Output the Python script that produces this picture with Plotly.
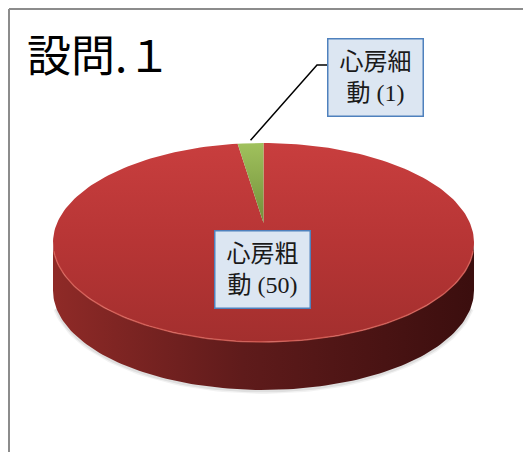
import math
import plotly.graph_objects as go

# ---- data ----
labels = ["心房粗動", "心房細動"]
values = [50, 1]
title_text = "設問.１"

# ---- styling / geometry (layout, not data) ----
W, H = 523, 452
CX, CY = 263.5, 242.5      # ellipse centre of top face
A, B = 210.5, 99.5         # semi axes of top face
APEX_Y = 223.0             # projected pie centre (perspective)
DEPTH = 48.0               # wall thickness
top_scales = [
    [[0, "#a32f2e"], [0.5, "#b73535"], [1, "#c83e3e"]],
    [[0, "#72903a"], [1, "#a0c15d"]],
]
wall_scale = [[0, "#8f2a27"], [0.45, "#5f1b1b"], [1, "#3b0e0e"]]
label_pos = [(262, 269), (375.5, 77.5)]


def rim(theta_deg, dy=0.0):
    t = math.radians(theta_deg)
    return CX + A * math.sin(t), CY - B * math.cos(t) + dy


def arc(t0, t1, dy=0.0, n=None):
    n = n or max(2, int(abs(t1 - t0) / 1.5) + 2)
    pts = [rim(t0 + (t1 - t0) * i / (n - 1), dy) for i in range(n)]
    return [p[0] for p in pts], [p[1] for p in pts]


fig = go.Figure()

total = sum(values)
angles = []
acc = 0.0
for v in values:
    a0 = acc / total * 360
    acc += v
    a1 = acc / total * 360
    angles.append((a0, a1))

# soft shadow under the wall
for w, op in [(6, 0.05), (3, 0.08)]:
    sx, sy = arc(100, 260, DEPTH + 1)
    fig.add_trace(go.Scatter(x=sx, y=sy, mode="lines", line=dict(color=f"rgba(0,0,0,{op})", width=w),
                             hoverinfo="skip", showlegend=False))

# front wall (visible part: 90..270 degrees)
for (a0, a1), v in zip(angles, values):
    lo, hi = max(a0, 90), min(a1, 270)
    if hi <= lo:
        continue
    tx, ty = arc(lo, hi)
    bx, by = arc(hi, lo, DEPTH)
    fig.add_trace(go.Scatter(
        x=tx + bx + [tx[0]], y=ty + by + [ty[0]], mode="lines", fill="toself",
        line=dict(width=0), fillgradient=dict(type="horizontal", colorscale=wall_scale),
        hoverinfo="skip", showlegend=False))

# top faces
for i, ((a0, a1), v) in enumerate(zip(angles, values)):
    ax_, ay_ = arc(a0, a1)
    xs = [CX] + ax_ + [CX]
    ys = [APEX_Y] + ay_ + [APEX_Y]
    fig.add_trace(go.Scatter(
        x=xs, y=ys, mode="lines", fill="toself", line=dict(width=0),
        fillgradient=dict(type="vertical", colorscale=top_scales[i]),
        hoverinfo="skip", showlegend=False, name=labels[i]))

# rim highlight on the front edge
hx, hy = arc(95, 265)
fig.add_trace(go.Scatter(x=hx, y=hy, mode="lines", line=dict(color="rgba(225,105,95,0.7)", width=1.5),
                         hoverinfo="skip", showlegend=False))

# labels
for i, (lab, v) in enumerate(zip(labels, values)):
    x, y = label_pos[i]
    fig.add_annotation(
        x=x, y=y, xref="x", yref="y", showarrow=False,
        text=f"{lab[:3]}<br>{lab[3:]} ({v})",
        font=dict(family="Liberation Serif, Noto Sans CJK JP", size=24, color="#1a1a1a"),
        bgcolor="#dce6f2", bordercolor="#4f81bd", borderwidth=1.5,
        width=94, height=76, borderpad=0, align="center", valign="middle")

# leader line for the small slice
g0, g1 = angles[1]
lx, ly = rim((g0 + g1) / 2, -3)
bx0, by0 = label_pos[1][0] - 48.5, 65
fig.add_shape(type="path", xref="x", yref="y",
              path=f"M {bx0},{by0} L {bx0-10},{by0} L {lx},{ly}",
              line=dict(color="black", width=1.5))

# title
fig.add_annotation(x=25, y=53, xref="x", yref="y", showarrow=False, xanchor="left",
                   text=title_text, font=dict(family="Noto Sans CJK JP", size=44, color="black"))

# chart border (top and left visible)
fig.add_shape(type="line", xref="x", yref="y", x0=9, y0=9, x1=W + 5, y1=9,
              line=dict(color="#8c8c8c", width=2))
fig.add_shape(type="line", xref="x", yref="y", x0=9, y0=9, x1=9, y1=H + 5,
              line=dict(color="#8c8c8c", width=2))

fig.update_layout(
    width=W, height=H, margin=dict(l=0, r=0, t=0, b=0),
    paper_bgcolor="white", plot_bgcolor="white", showlegend=False,
    xaxis=dict(range=[0, W], visible=False, fixedrange=True),
    yaxis=dict(range=[H, 0], visible=False, fixedrange=True),
)
fig.write_html("out.html")
